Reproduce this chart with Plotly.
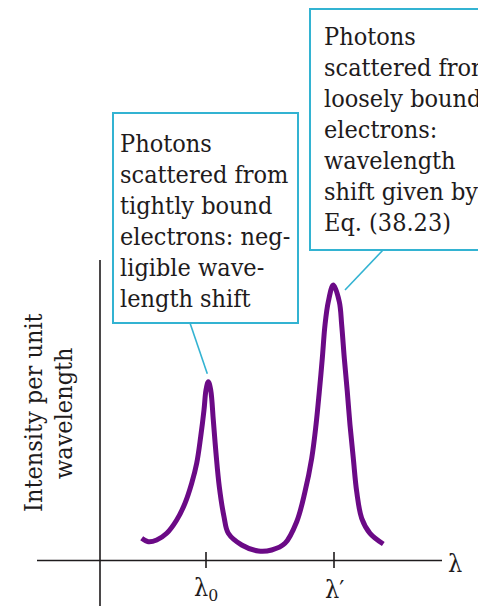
import plotly.graph_objects as go

# Scattered-radiation spectrum (arbitrary units): wavelength vs intensity per unit wavelength
wavelength = [0.417, 0.483, 0.567, 0.667, 0.767, 0.850, 0.917, 0.967, 1.007, 1.040, 1.060,
              1.083, 1.107, 1.133, 1.160, 1.193, 1.240, 1.283, 1.417, 1.583, 1.717, 1.850,
              1.967, 2.050, 2.117, 2.160, 2.193, 2.223, 2.250, 2.283, 2.333, 2.393,
              2.417, 2.443, 2.473, 2.500, 2.533, 2.567, 2.617, 2.700, 2.833]
intensity = [0.222, 0.188, 0.205, 0.272, 0.405, 0.572, 0.772, 0.972, 1.238, 1.505, 1.705,
             1.788, 1.705, 1.405, 1.072, 0.738, 0.438, 0.272, 0.155, 0.095, 0.105, 0.172,
             0.388, 0.688, 1.022, 1.355, 1.688, 2.022, 2.355, 2.588, 2.755, 2.588,
             2.355, 2.022, 1.688, 1.355, 1.022, 0.688, 0.422, 0.272, 0.165]

# Tick marks on the wavelength axis
tick_values = [1.06, 2.34]
tick_labels = ["λ<sub>0</sub>", "λ′"]

# Callout texts
note_tight = ["Photons", "scattered from", "tightly bound", "electrons: neg-",
              "ligible wave-", "length shift"]
note_loose = ["Photons", "scattered from", "loosely bound", "electrons:",
              "wavelength", "shift given by", "Eq. (38.23)"]
axis_title = ["Intensity per unit", "wavelength"]

W, H = 478, 606
X_MIN, X_MAX = -1.00, 3.78
Y_MIN, Y_MAX = -0.455, 5.605

CURVE = "#6B0A86"
CYAN = "#33B3D2"
INK = "#1e1b1c"
SERIF = "DejaVu Serif Condensed"
FS = 25


def px_x(p):
    return X_MIN + p * (X_MAX - X_MIN) / W


def px_y(p):
    return Y_MAX - p * (Y_MAX - Y_MIN) / H


fig = go.Figure()
fig.add_trace(go.Scatter(
    x=wavelength, y=intensity, mode="lines",
    line=dict(color=CURVE, width=5, shape="spline", smoothing=1.0),
    hoverinfo="skip",
))

shapes = []
# coordinate axes
shapes.append(dict(type="line", x0=px_x(37), x1=px_x(442), y0=0, y1=0,
                   line=dict(color=INK, width=1.6)))
shapes.append(dict(type="line", x0=0, x1=0, y0=px_y(260), y1=px_y(606),
                   line=dict(color=INK, width=1.6)))
# ticks
for tv in tick_values:
    shapes.append(dict(type="line", x0=tv, x1=tv, y0=px_y(552), y1=px_y(568),
                       line=dict(color=INK, width=1.6)))

annotations = []
for tv, tl in zip(tick_values, tick_labels):
    annotations.append(dict(x=tv, y=px_y(589), xref="x", yref="y", text=tl,
                            showarrow=False, xanchor="center", yanchor="middle",
                            font=dict(family=SERIF, size=FS, color=INK)))
annotations.append(dict(x=px_x(455), y=px_y(563), xref="x", yref="y", text="λ",
                        showarrow=False, xanchor="center", yanchor="middle",
                        font=dict(family=SERIF, size=FS, color=INK)))

# vertical axis title, two lines
for i, line in enumerate(axis_title):
    annotations.append(dict(x=px_x(33 + 30 * i), y=px_y(413), xref="x", yref="y",
                            text=line, textangle=-90, showarrow=False,
                            xanchor="center", yanchor="middle",
                            font=dict(family=SERIF, size=FS, color=INK)))


# callout boxes
def callout(left, top, right, bottom, lines, text_x, first_y, pitch):
    shapes.append(dict(type="rect", x0=px_x(left), x1=px_x(right),
                       y0=px_y(bottom), y1=px_y(top), fillcolor="white",
                       line=dict(color=CYAN, width=2), layer="above"))
    for i, line in enumerate(lines):
        annotations.append(dict(x=px_x(text_x), y=px_y(first_y + pitch * i),
                                xref="x", yref="y", text=line, showarrow=False,
                                xanchor="left", yanchor="middle",
                                font=dict(family=SERIF, size=FS, color=INK)))


callout(113, 113, 298, 323, note_tight, 118, 143, 31)
callout(310, 9, 492, 250, note_loose, 322, 36, 31)

# leader lines from the boxes to the peaks
i0 = intensity.index(max(intensity[:20]))
i1 = intensity.index(max(intensity))
shapes.append(dict(type="line", x0=px_x(190), y0=px_y(323),
                   x1=wavelength[i0] - 0.01, y1=intensity[i0] + 0.08,
                   line=dict(color=CYAN, width=1.6)))
shapes.append(dict(type="line", x0=px_x(383), y0=px_y(250),
                   x1=wavelength[i1] + 0.117, y1=intensity[i1] - 0.05,
                   line=dict(color=CYAN, width=1.6)))

fig.update_layout(
    width=W, height=H, margin=dict(l=0, r=0, t=0, b=0),
    paper_bgcolor="white", plot_bgcolor="white", showlegend=False,
    font=dict(family=SERIF),
    xaxis=dict(range=[X_MIN, X_MAX], visible=False, fixedrange=True),
    yaxis=dict(range=[Y_MIN, Y_MAX], visible=False, fixedrange=True),
    shapes=shapes, annotations=annotations,
)

fig.write_html("out.html")
